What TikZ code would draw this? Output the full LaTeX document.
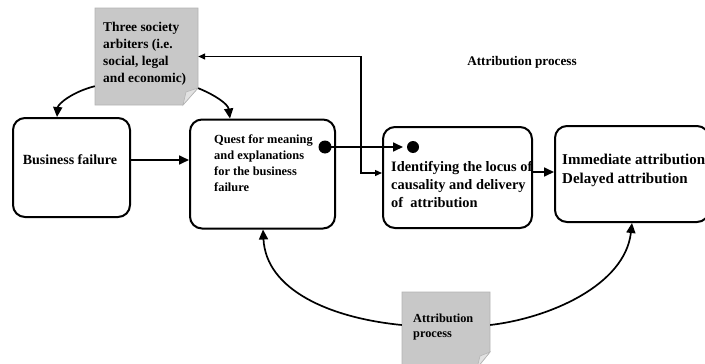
\documentclass[tikz,border=0pt]{standalone}
\usepackage{fontspec}
\setmainfont{Liberation Serif}
\usetikzlibrary{arrows.meta,calc}
\definecolor{notegray}{HTML}{C8C8C8}
\definecolor{noteedge}{HTML}{B4B4B4}
\definecolor{foldgray}{HTML}{E2E2E2}
\begin{document}
\begin{tikzpicture}[x=1pt,y=-1pt,
  procbox/.style={draw=black,line width=2pt,rounded corners=12pt,inner sep=0pt},
  ghost/.style={inner sep=0pt},
  txt/.style={inner sep=0pt,align=left,anchor=north west,font=\bfseries},
  arr/.style={line width=1.7pt,-{Triangle[length=10pt,width=9pt]}},
  thinarr/.style={line width=1.3pt,{Triangle[length=7pt,width=6pt]}-{Triangle[length=7pt,width=6pt]}}
]
\useasboundingbox (0,0) rectangle (705,364);
\fill[white] (0,0) rectangle (705,364);
\clip (0,0) rectangle (705,364);

% notes (shapes)
\node[ghost,minimum width=103pt,minimum height=97pt] (n1) at (146.5,56.5) {};
\fill[notegray,draw=noteedge,line width=0.6pt] (95,8) -- (198,8) -- (198,88) -- (183,105) -- (95,105) -- cycle;
\fill[foldgray,draw=noteedge,line width=0.6pt] (198,88) -- (186,92) -- (183,105) -- cycle;

\node[ghost,minimum width=88pt,minimum height=76pt] (n2) at (446,330) {};
\fill[notegray,draw=noteedge,line width=0.6pt] (402,292) -- (490,292) -- (490,352) -- (477,368) -- (402,368) -- cycle;
\fill[foldgray,draw=noteedge,line width=0.6pt] (490,352) -- (480,356) -- (477,368) -- cycle;

% boxes
\node[procbox,minimum width=117pt,minimum height=99pt] (bf) at (71.5,167.5) {};
\node[procbox,minimum width=145pt,minimum height=109pt] (qm) at (262.5,174) {};
\node[procbox,minimum width=149pt,minimum height=101pt] (id) at (457.5,177.5) {};
\node[procbox,minimum width=154pt,minimum height=96pt] (im) at (632,174) {};

% texts
\node[inner sep=0pt,font=\bfseries\fontsize{13.2}{15}\selectfont] (title) at (522,62) {Attribution process};
\node[inner sep=0pt,font=\bfseries\fontsize{14}{17}\selectfont] (bft) at (70,160) {Business failure};
\node[txt,font=\bfseries\fontsize{12.4}{16}\selectfont] (qmt) at (214,135) {Quest for meaning\\and explanations\\for the business\\failure};
\node[txt,font=\bfseries\fontsize{14.4}{18}\selectfont] (idt) at (391,161.5) {Identifying the locus of\\causality and delivery\\of\ \ attribution};
\node[txt,font=\bfseries\fontsize{15}{18.5}\selectfont] (imt) at (562,154) {Immediate attribution\\Delayed attribution};
\node[txt,font=\bfseries\fontsize{13.4}{17}\selectfont] (n1t) at (103,22) {Three society\\arbiters (i.e.\\social, legal\\and economic)};
\node[txt,font=\bfseries\fontsize{12.3}{14.5}\selectfont] (n2t) at (413,314) {Attribution\\process};

% connectors
\draw[arr] ([yshift=19pt]n1.south west) .. controls (72,92) and (58,104) .. ([xshift=-14.5pt]bf.north);
\draw[arr] ([yshift=17pt]n1.south east) .. controls (215,95) and (228,104) .. ([xshift=-32.5pt]qm.north);
\draw[arr] (bf.east |- bft) -- (qm.west |- bft);
\draw[arr] (id.east |- 0,172) -- (im.west |- 0,172);

\coordinate (qd) at (325,147);
\coordinate (idd) at (413,147);
\fill (qd) circle (6.5pt);
\fill (idd) circle (6pt);
\draw[arr] (qd) -- ([xshift=-10pt]idd);

\coordinate (elb) at (361,173);
\draw[thinarr] (n1.east) -| (elb) -- (id.west |- elb);

\draw[arr] ([yshift=5pt]n2.west) .. controls (330,318) and (266,290) .. ([xshift=0.5pt]qm.south);
\draw[arr] ([yshift=5pt]n2.east) .. controls (550,318) and (625,285) .. (im.south);
\end{tikzpicture}
\end{document}
